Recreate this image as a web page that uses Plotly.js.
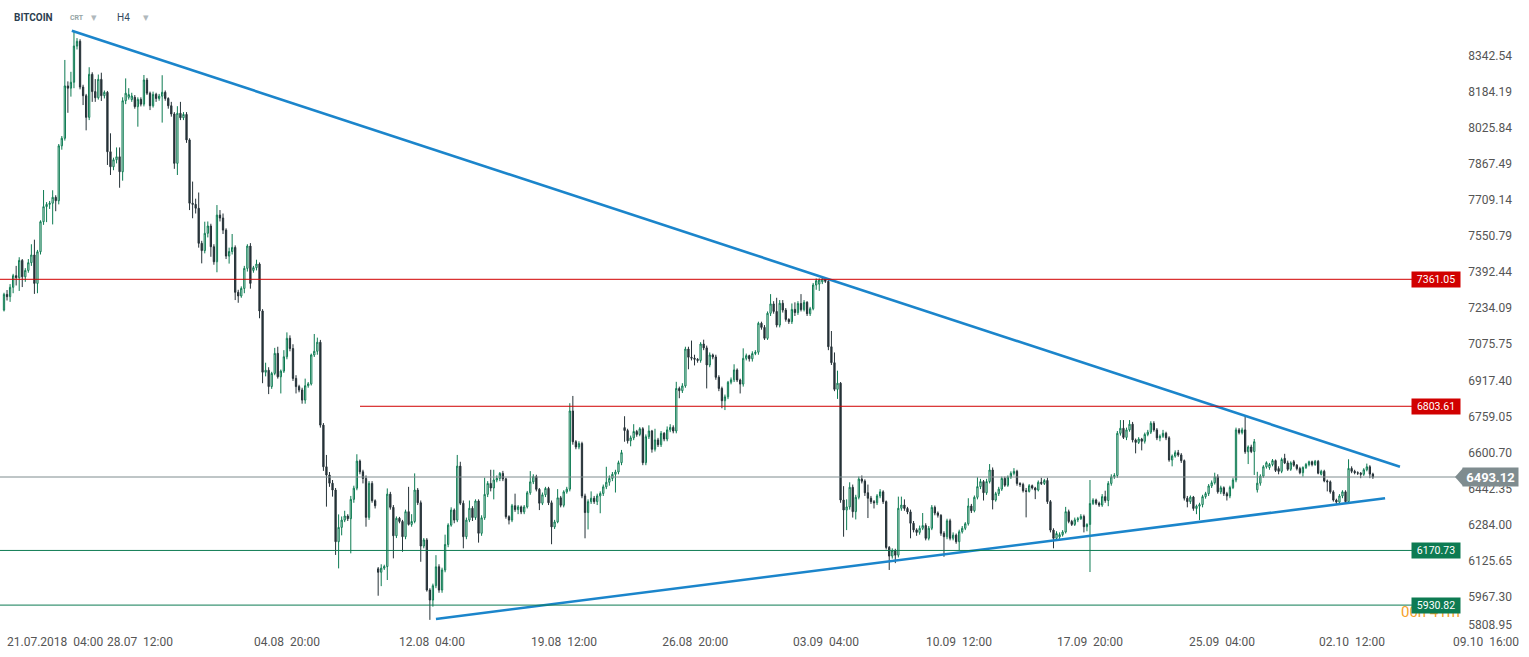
<!DOCTYPE html>
<html><head><meta charset="utf-8">
<script src="https://cdn.plot.ly/plotly-3.0.1.min.js"></script>
<style>html,body{margin:0;padding:0;background:#fff}#chart{width:1529px;height:657px}</style>
</head><body><div id="chart"></div>
<script>
// BITCOIN H4 candles
const openP = [
7226,7295,7285,7326,7377,7368,7444,7372,7400,7434,
7468,7343,7482,7614,7680,7690,7695,7721,7706,7947,
7980,8210,8200,8226,8385,8406,8205,8167,8072,8261,
8185,8158,8239,8167,8182,7921,7855,7886,7899,7833,
8145,8160,8150,8160,8119,8151,8130,8236,8178,8123,
8173,8155,8165,8182,8155,8123,8087,7870,8090,8070,
8085,7973,7695,7690,7673,7519,7487,7563,7595,7504,
7438,7643,7630,7577,7463,7483,7501,7304,7288,7321,
7409,7507,7400,7412,7428,7222,6953,6962,6890,6948,
7036,6933,6958,7021,7102,7057,6926,6890,6875,6831,
6894,6902,7029,7045,7085,6721,6538,6502,6466,6436,
6209,6272,6304,6322,6310,6395,6444,6563,6516,6487,
6316,6465,6389,6090,6075,6093,6100,6418,6360,6235,
6312,6298,6231,6341,6285,6298,6436,6380,6190,6217,
5997,5953,6016,6099,5997,6085,6197,6282,6348,6304,
6541,6378,6231,6304,6356,6315,6388,6246,6314,6417,
6465,6445,6480,6487,6509,6485,6319,6304,6367,6350,
6362,6340,6362,6424,6472,6495,6439,6378,6415,6443,
6380,6274,6296,6402,6369,6428,6440,6783,6648,6625,
6640,6410,6337,6385,6400,6385,6410,6421,6450,6470,
6487,6505,6515,6556,6710,6697,6652,6665,6693,6680,
6705,6556,6670,6695,6615,6656,6635,6685,6660,6700,
6711,6695,6882,6872,6893,7055,7019,7015,7010,7005,
7077,7060,6985,7029,7020,6931,6882,6828,6845,6909,
6920,6963,6919,6901,7014,7026,7012,7035,7041,7168,
7150,7102,7212,7253,7220,7160,7256,7226,7185,7175,
7229,7215,7255,7228,7260,7210,7232,7336,7340,7350,
7362,7352,7065,6995,6878,6905,6392,6348,6362,6448,
6341,6404,6484,6475,6424,6400,6385,6380,6410,6428,
6385,6184,6146,6170,6150,6356,6370,6355,6340,6290,
6261,6250,6268,6280,6224,6268,6360,6335,6325,6246,
6231,6301,6224,6238,6209,6253,6268,6288,6366,6345,
6404,6451,6473,6424,6473,6524,6392,6420,6440,6487,
6457,6493,6509,6518,6465,6460,6433,6430,6455,6445,
6436,6470,6465,6478,6385,6260,6224,6230,6240,6252,
6341,6298,6285,6305,6310,6320,6275,6285,6377,6392,
6378,6370,6407,6390,6465,6494,6500,6685,6707,6667,
6700,6725,6656,6645,6660,6650,6680,6690,6729,6700,
6665,6672,6685,6665,6568,6585,6600,6590,6565,6400,
6385,6405,6355,6365,6372,6407,6420,6454,6468,6494,
6428,6446,6420,6410,6447,6480,6700,6688,6700,6604,
6625,6605,6437,6466,6497,6538,6535,6548,6565,6530,
6518,6575,6555,6527,6560,6545,6530,6512,6535,6548,
6560,6548,6562,6505,6518,6476,6472,6428,6392,6383,
6410,6428,6385,6531,6518,6512,6510,6505,6525,6538,
6506];
const highP = [
7302,7314,7340,7385,7420,7458,7450,7410,7450,7515,
7535,7490,7620,7753,7700,7705,7752,7730,7955,7990,
8324,8230,8272,8452,8420,8415,8215,8175,8292,8270,
8240,8260,8268,8190,8188,8002,7895,7940,7940,8160,
8243,8200,8180,8170,8160,8160,8258,8245,8185,8185,
8180,8175,8257,8190,8160,8140,8095,8121,8140,8095,
8095,7980,7790,7715,7742,7530,7614,7615,7605,7515,
7687,7665,7650,7585,7500,7560,7510,7315,7330,7420,
7515,7520,7420,7447,7435,7230,6995,6975,6955,7060,
7065,6965,7050,7128,7115,7076,6940,6898,6885,6925,
6910,7035,7121,7105,7095,6730,6590,6515,6480,6445,
6329,6320,6345,6330,6410,6455,6593,6570,6525,6500,
6475,6475,6395,6098,6110,6108,6443,6428,6370,6320,
6318,6305,6350,6450,6330,6509,6445,6390,6225,6225,
6005,6025,6150,6110,6095,6240,6290,6360,6355,6590,
6560,6390,6315,6390,6365,6395,6395,6325,6490,6475,
6525,6525,6500,6515,6520,6490,6325,6375,6420,6370,
6368,6370,6432,6519,6505,6503,6445,6425,6450,6450,
6390,6305,6440,6410,6435,6450,6817,6849,6655,6650,
6648,6420,6395,6430,6410,6420,6430,6460,6538,6500,
6515,6525,6565,6612,6760,6705,6675,6725,6700,6712,
6712,6680,6720,6700,6705,6665,6695,6690,6715,6725,
6720,6911,6890,6905,7065,7065,7092,7030,7015,7085,
7096,7070,7040,7035,7030,6940,6890,6855,6915,6930,
6988,6970,6925,7058,7035,7030,7045,7050,7175,7175,
7160,7220,7296,7265,7280,7270,7270,7235,7190,7255,
7260,7265,7296,7270,7265,7240,7345,7365,7365,7368,
7366,7358,7134,7040,6960,6910,6453,6395,6470,6460,
6415,6495,6500,6483,6460,6410,6392,6418,6440,6435,
6390,6190,6180,6178,6407,6407,6395,6362,6350,6300,
6268,6280,6335,6290,6278,6370,6368,6342,6330,6255,
6310,6310,6250,6245,6262,6278,6295,6400,6375,6412,
6492,6485,6480,6485,6550,6535,6428,6450,6495,6495,
6500,6518,6532,6525,6470,6468,6445,6462,6460,6450,
6478,6490,6485,6490,6392,6268,6255,6250,6260,6362,
6350,6305,6315,6318,6330,6328,6290,6480,6400,6398,
6385,6418,6433,6475,6505,6510,6695,6743,6743,6710,
6743,6735,6662,6668,6665,6688,6700,6738,6738,6708,
6680,6700,6692,6672,6592,6610,6612,6598,6570,6410,
6412,6410,6372,6380,6415,6428,6462,6478,6512,6505,
6455,6452,6428,6455,6490,6710,6708,6710,6765,6632,
6635,6660,6516,6505,6545,6562,6555,6572,6570,6540,
6578,6595,6565,6562,6568,6550,6538,6540,6555,6565,
6565,6568,6568,6525,6525,6482,6478,6435,6398,6418,
6435,6435,6571,6540,6525,6518,6515,6532,6552,6545,
6512];
const lowP = [
7220,7268,7262,7300,7334,7310,7327,7350,7390,7420,
7297,7300,7470,7600,7612,7670,7602,7660,7690,7930,
7970,8092,8163,8200,8370,8195,8126,8015,8060,8140,
8140,8150,8144,8155,7863,7819,7840,7870,7763,7794,
8130,8150,8140,8110,8031,8120,8120,8170,8104,8115,
8140,8145,8049,8145,8110,8075,7846,7819,8060,8060,
7960,7665,7629,7650,7500,7431,7475,7545,7460,7425,
7392,7615,7560,7450,7430,7470,7270,7258,7280,7300,
7395,7320,7390,7400,7190,6905,6935,6857,6880,6940,
6925,6860,6950,7010,7045,6915,6860,6865,6815,6815,
6885,6895,7020,7030,6710,6520,6363,6450,6407,6151,
6092,6237,6295,6300,6158,6380,6435,6505,6465,6275,
6305,6380,6355,5972,6014,6085,6041,6350,6136,6225,
6290,6165,6220,6280,6275,6290,6370,6121,6180,5990,
5866,5924,6005,5985,5985,6075,6185,6275,6290,6295,
6370,6180,6220,6295,6300,6305,6205,6235,6305,6405,
6430,6395,6470,6475,6475,6310,6285,6295,6340,6330,
6330,6330,6355,6415,6462,6430,6348,6370,6405,6370,
6198,6265,6290,6360,6360,6420,6430,6635,6615,6615,
6400,6224,6263,6375,6375,6370,6334,6410,6440,6455,
6475,6425,6505,6545,6648,6640,6628,6655,6670,6672,
6545,6545,6660,6600,6605,6625,6625,6650,6650,6690,
6685,6685,6839,6862,6885,6966,7005,6983,6995,6995,
7050,6882,6975,7010,6920,6870,6795,6787,6835,6900,
6910,6910,6860,6890,7005,7000,7000,7028,7030,7140,
7095,7095,7200,7210,7150,7150,7215,7175,7165,7165,
7200,7205,7220,7220,7200,7200,7225,7315,7310,7340,
7345,7050,6985,6870,6836,6380,6231,6260,6350,6315,
6307,6395,6465,6410,6313,6375,6355,6370,6400,6375,
6175,6085,6135,6115,6140,6345,6345,6330,6224,6250,
6235,6240,6260,6215,6215,6260,6325,6315,6235,6143,
6220,6215,6215,6200,6172,6245,6260,6280,6335,6338,
6395,6440,6390,6415,6465,6351,6385,6410,6432,6450,
6450,6485,6500,6455,6450,6425,6316,6425,6438,6396,
6430,6458,6458,6375,6250,6180,6215,6220,6232,6245,
6290,6278,6278,6295,6305,6250,6255,6076,6370,6370,
6362,6362,6380,6365,6455,6485,6490,6675,6660,6655,
6692,6645,6597,6638,6610,6640,6672,6682,6692,6655,
6650,6665,6655,6560,6540,6578,6582,6555,6390,6360,
6375,6345,6330,6304,6360,6398,6410,6445,6460,6420,
6418,6410,6390,6400,6440,6470,6680,6680,6595,6550,
6598,6502,6425,6455,6490,6530,6525,6540,6515,6505,
6510,6550,6520,6520,6538,6522,6505,6495,6528,6540,
6540,6542,6505,6500,6470,6430,6420,6385,6370,6375,
6400,6378,6378,6510,6505,6502,6488,6498,6518,6488,
6485];
const closeP = [
7295,7285,7326,7377,7368,7444,7372,7400,7434,7468,
7343,7482,7614,7680,7690,7695,7721,7706,7947,7980,
8210,8200,8226,8385,8406,8205,8167,8072,8261,8185,
8158,8239,8167,8182,7921,7855,7886,7899,7833,8145,
8178,8172,8166,8119,8151,8130,8236,8178,8123,8173,
8155,8165,8182,8155,8123,8087,7870,8090,8070,8085,
7973,7695,7690,7673,7519,7487,7563,7595,7504,7438,
7643,7630,7577,7463,7483,7501,7304,7288,7321,7409,
7507,7343,7412,7428,7222,6953,6962,6890,6948,7036,
6933,6958,7021,7102,7057,6926,6890,6875,6831,6894,
6902,7029,7045,7085,6721,6538,6502,6466,6436,6209,
6272,6304,6322,6310,6395,6444,6563,6516,6487,6316,
6465,6389,6367,6075,6093,6100,6418,6360,6235,6312,
6298,6231,6341,6285,6298,6436,6380,6190,6217,5997,
5953,6016,6099,5997,6085,6197,6282,6348,6304,6541,
6378,6231,6304,6356,6315,6388,6246,6314,6417,6465,
6445,6480,6487,6509,6485,6319,6304,6367,6350,6362,
6340,6362,6424,6472,6495,6439,6378,6415,6443,6380,
6274,6296,6402,6369,6428,6440,6783,6648,6625,6640,
6410,6337,6385,6400,6385,6410,6421,6450,6470,6487,
6505,6515,6556,6600,6697,6652,6665,6693,6680,6705,
6556,6670,6695,6615,6656,6635,6685,6660,6700,6711,
6695,6882,6872,6893,7055,7019,7015,7010,7005,7077,
7060,6985,7029,7020,6931,6882,6828,6845,6909,6920,
6963,6919,6901,7014,7026,7012,7035,7041,7168,7150,
7102,7212,7253,7220,7160,7256,7226,7185,7175,7229,
7215,7255,7228,7260,7210,7232,7336,7355,7358,7362,
7352,7065,6995,6878,6905,6392,6348,6362,6448,6341,
6404,6484,6475,6424,6400,6385,6380,6410,6428,6385,
6184,6146,6170,6150,6356,6370,6355,6340,6290,6261,
6250,6268,6280,6224,6268,6360,6335,6325,6246,6231,
6301,6224,6238,6209,6253,6268,6288,6366,6345,6404,
6451,6473,6424,6473,6524,6392,6420,6440,6487,6457,
6493,6509,6518,6465,6460,6433,6430,6455,6445,6436,
6470,6465,6478,6385,6260,6224,6245,6240,6252,6341,
6298,6285,6305,6310,6320,6275,6285,6377,6392,6378,
6370,6407,6390,6465,6494,6500,6685,6707,6667,6700,
6725,6656,6645,6660,6650,6680,6690,6729,6700,6665,
6672,6685,6665,6568,6585,6600,6590,6565,6400,6385,
6405,6355,6365,6372,6407,6420,6454,6468,6494,6428,
6446,6420,6410,6447,6480,6700,6688,6700,6604,6625,
6605,6648,6466,6497,6538,6556,6548,6565,6522,6518,
6570,6555,6527,6555,6545,6530,6512,6535,6548,6560,
6548,6562,6510,6518,6476,6472,6428,6392,6383,6410,
6428,6385,6531,6518,6512,6510,6505,6525,6538,6506,
6493.12];

// time axis labels (candle index where each label sits)
const timeTickIdx = [16.8, 44.7, 93.0, 140.7, 184.1, 227.2, 270.2, 313.9, 357.0, 400.4, 443.1, 487.2];
const timeTickText = ["21.07.2018\u00a0\u00a004:00","28.07\u00a0\u00a012:00","04.08\u00a0\u00a020:00","12.08\u00a0\u00a004:00","19.08\u00a0\u00a012:00","26.08\u00a0\u00a020:00","03.09\u00a0\u00a004:00","10.09\u00a0\u00a012:00","17.09\u00a0\u00a020:00","25.09\u00a0\u00a004:00","02.10\u00a0\u00a012:00","09.10\u00a0\u00a016:00"];

// price axis ticks (the lowest one is drawn by a second, overlaid axis, label above its tick)
const priceTicks = [5967.30,6125.65,6284.00,6442.35,6600.70,6759.05,6917.40,7075.75,7234.09,7392.44,7550.79,7709.14,7867.49,8025.84,8184.19,8342.54];
const bottomPriceTick = [5808.95];

// horizontal levels and current price
const redLevels = [7361.05, 6803.61];
const greenLevels = [6170.73, 5930.82];
const lastPrice = 6493.12;

// trend lines (candle index, price)
const upperTrendIdx = [22.3, 458.9];
const upperTrendPrice = [8452, 6538.5];
const lowerTrendIdx = [142.0, 454.0];
const lowerTrendPrice = [5870, 6399.6];

// ---------- drawing ----------
const W = 1529, PLOT_H = 633;
const px = v => v / W;
const py = v => 1 - v / PLOT_H;
const idx = closeP.map((_, i) => i);
const GREEN = '#0d7b52', DARK = '#263238', RED = '#d10000', GRAY = '#7f8c8f', BLUE = '#1b85cb';
const Y_RANGE = [8587.2 - 4.39*PLOT_H, 8587.2];

const traces = [
  {type:'candlestick', x: idx, open: openP, high: highP, low: lowP, close: closeP,
   increasing:{line:{color:GREEN, width:1}, fillcolor:'#ffffff'},
   decreasing:{line:{color:DARK, width:1}, fillcolor:DARK},
   whiskerwidth:0, hoverinfo:'skip', showlegend:false},
  {type:'scatter', mode:'lines', x: upperTrendIdx, y: upperTrendPrice,
   line:{color:BLUE, width:2.6}, hoverinfo:'skip', showlegend:false},
  {type:'scatter', mode:'lines', x: lowerTrendIdx, y: lowerTrendPrice,
   line:{color:BLUE, width:2.6}, hoverinfo:'skip', showlegend:false},
  {type:'scatter', mode:'markers', x: [], y: [], yaxis:'y2', hoverinfo:'skip', showlegend:false}
];

const shapes = [];
const annotations = [];
// orange countdown text (partly under badge)
annotations.push({xref:'paper', yref:'paper', x:px(1430), y:py(612), text:'00h 41m', showarrow:false,
  font:{family:'Roboto', size:15, color:'#f6a22b'}, xanchor:'center', yanchor:'middle'});

redLevels.forEach((v, k) => {
  shapes.push({type:'line', xref:'paper', yref:'y', x0: k === 0 ? 0 : px(360), x1: px(1412), y0: v, y1: v,
    line:{color:RED, width:1}, layer:'above'});
});
greenLevels.forEach(v => {
  shapes.push({type:'line', xref:'paper', yref:'y', x0: 0, x1: px(1412), y0: v, y1: v,
    line:{color:GREEN, width:1}, layer:'above'});
});
shapes.push({type:'line', xref:'paper', yref:'y', x0: 0, x1: px(1456), y0: lastPrice, y1: lastPrice,
  line:{color:GRAY, width:1}, layer:'above'});
shapes.push({type:'path', xref:'paper', yref:'y', xsizemode:'pixel', ysizemode:'pixel',
  xanchor: px(1463), yanchor: lastPrice, path:'M 0 -9 L -8 0 L 0 9 Z',
  fillcolor:GRAY, line:{width:0}, layer:'above'});

const badge = (v, color) => ({xref:'paper', yref:'y', x:px(1436), y:v, text:v.toFixed(2), showarrow:false,
  bgcolor:color, font:{family:'Roboto', size:10.5, color:'#ffffff'}, width:46, height:13, borderpad:1,
  xanchor:'center', yanchor:'middle'});
redLevels.forEach(v => annotations.push(badge(v, RED)));
greenLevels.forEach(v => annotations.push(badge(v, GREEN)));
annotations.push({xref:'paper', yref:'y', x:px(1490.5), y:lastPrice, text:'<b>' + lastPrice.toFixed(2) + '</b>',
  showarrow:false, bgcolor:GRAY, font:{family:'Roboto', size:13, color:'#ffffff'}, width:53, height:16, borderpad:1,
  xanchor:'center', yanchor:'middle'});

// header
const hdr = (x, text, size, color, bold) => ({xref:'paper', yref:'paper', x:px(x), y:py(18), xanchor:'left', yanchor:'middle',
  text: bold ? '<b>' + text + '</b>' : text, showarrow:false, font:{family:'Roboto', size:size, color:color}});
annotations.push(hdr(12, 'BITCOIN', 10, '#2c3e50', true));
annotations.push(hdr(68, 'CRT', 7, '#95a5a6', true));
annotations.push(hdr(89, '\u25BE', 11, '#b0b8bc', false));
annotations.push(hdr(115, 'H4', 10, '#34495e', false));
annotations.push(hdr(141, '\u25BE', 11, '#b0b8bc', false));

const yCommon = {side:'right', range: Y_RANGE, showgrid:false, zeroline:false, showline:false, ticks:'',
  tickmode:'array', ticklabelstandoff:14, ticklabeloverflow:'allow',
  tickfont:{family:'Roboto', size:12, color:'#555555'}, fixedrange:true};

const layout = {
  width: W, height: 657,
  margin:{l:0, r:0, t:0, b:24, pad:0},
  paper_bgcolor:'#ffffff', plot_bgcolor:'#ffffff',
  showlegend:false,
  boxgap:0.4,
  xaxis:{range:[-4/3.042, (W-4)/3.042], rangeslider:{visible:false}, showgrid:false, zeroline:false, showline:false,
    ticks:'', tickmode:'array', tickvals: timeTickIdx, ticktext: timeTickText,
    tickfont:{family:'Roboto', size:12, color:'#555555'}, fixedrange:true},
  yaxis:Object.assign({}, yCommon, {ticklabelposition:'inside', tickvals: priceTicks,
    ticktext: priceTicks.map(v => v.toFixed(2)), ticklabelshift:-3.8}),
  yaxis2:Object.assign({}, yCommon, {overlaying:'y', anchor:'x', ticklabelposition:'inside top',
    tickvals: bottomPriceTick, ticktext: bottomPriceTick.map(v => v.toFixed(2))}),
  shapes: shapes,
  annotations: annotations,
  font:{family:'Roboto'}
};

Plotly.newPlot('chart', traces, layout, {displayModeBar:false, staticPlot:true});
</script>
</body></html>
